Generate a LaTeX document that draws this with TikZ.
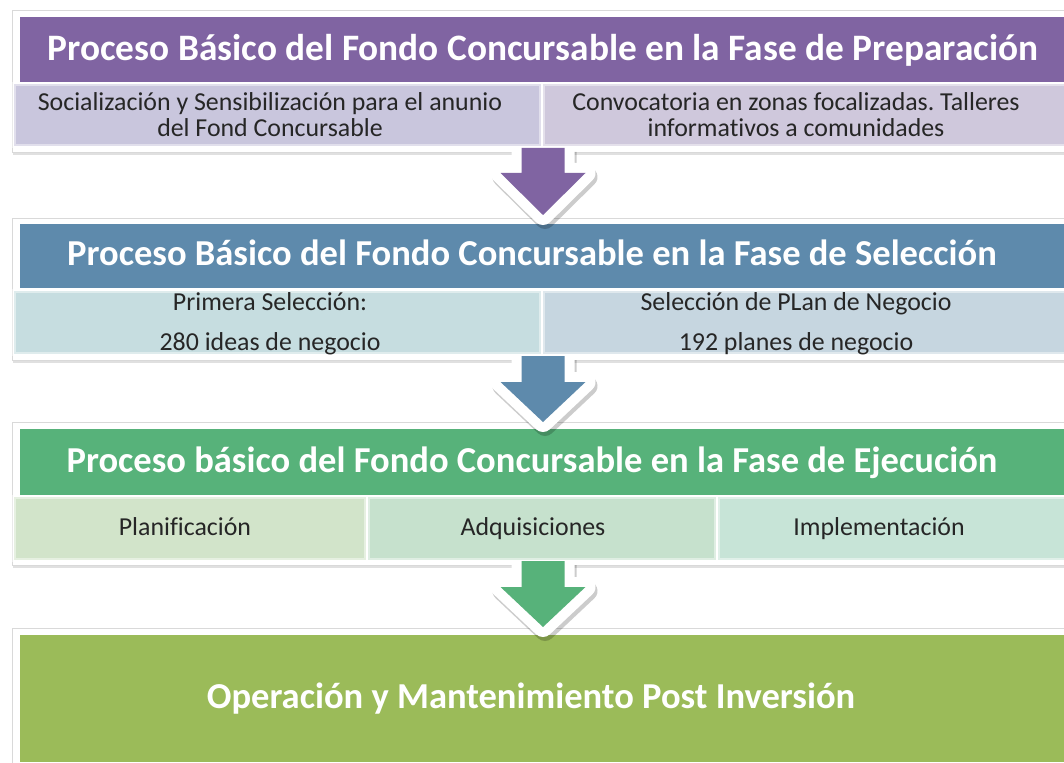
\documentclass[tikz,border=0pt]{standalone}
\usepackage{fontspec}
\setmainfont[Ligatures={NoCommon}]{Carlito}
\frenchspacing
\definecolor{purpleH}{HTML}{8064A2}
\definecolor{purpleA}{HTML}{C9C6DD}
\definecolor{purpleB}{HTML}{CFC8DC}
\definecolor{blueH}{HTML}{5E8AAC}
\definecolor{blueA}{HTML}{C6DDE0}
\definecolor{blueB}{HTML}{C6D6E0}
\definecolor{greenH}{HTML}{57B27A}
\definecolor{greenA}{HTML}{D2E4CA}
\definecolor{greenB}{HTML}{C6E1CD}
\definecolor{greenC}{HTML}{C7E4D7}
\definecolor{oliveH}{HTML}{9BBB59}
\definecolor{txtdark}{HTML}{262626}
\tikzset{
  framebox/.style={fill=white, draw=black!15, line width=0.6pt},
  frameshadow/.style={fill=black, opacity=0.12},
  subbox/.style={draw=white, draw opacity=0.45, line width=3pt},
  hdrtxt/.style={text=white, font=\fontsize{28}{30}\selectfont\bfseries, inner sep=0pt, anchor=base},
  hdrtxtsm/.style={hdrtxt, font=\fontsize{27.4}{30}\selectfont\bfseries},
  subtxt/.style={text=txtdark, font=\fontsize{19.4}{22}\selectfont, inner sep=0pt, anchor=base},
  arrowshadow/.style={draw=black, draw opacity=0.2, line width=15pt, line join=round},
  arrowrim/.style={draw=white, line width=15pt, line join=round},
}
\newcommand\downblockarrow[4]{%
  \draw[arrowshadow, shift={(2,4)}] (521.5,#1) -- (521.5,#2) -- (500.5,#2) -- (543,#3) -- (585.5,#2) -- (564.5,#2) -- (564.5,#1);
  \draw[arrowrim] (521.5,#1) -- (521.5,#2) -- (500.5,#2) -- (543,#3) -- (585.5,#2) -- (564.5,#2) -- (564.5,#1);
  \fill[#4] (521.5,#1) -- (521.5,#2) -- (500.5,#2) -- (543,#3) -- (585.5,#2) -- (564.5,#2) -- (564.5,#1) -- cycle;
}
\begin{document}
\begin{tikzpicture}[x=0.75pt,y=-0.75pt]
\useasboundingbox (0,0) rectangle (1064,763);
\fill[white] (0,0) rectangle (1064,763);

% ---------- block 1 ----------
\fill[frameshadow] (13,13) rectangle (1080,155);
\draw[framebox] (12,10) rectangle (1080,152);
\fill[purpleH] (20,17) rectangle (1080,82);
\filldraw[subbox, fill=purpleA] (14,84) rectangle (541,146);
\filldraw[subbox, fill=purpleB] (543,84) rectangle (1080,146);
\node[hdrtxt] (h1) at (543,61) {Proceso Básico del Fondo Concursable en la Fase de Preparación};
\node[subtxt] (s1a) at (270,111) {Socialización y Sensibilización para el anunio};
\node[subtxt] (s1a2) at (270,137) {del Fond Concursable};
\node[subtxt] (s1b) at (796,111) {Convocatoria en zonas focalizadas. Talleres};
\node[subtxt] (s1b2) at (796,137) {informativos a comunidades};

% ---------- block 2 ----------
\fill[frameshadow] (13,221) rectangle (1080,363);
\draw[framebox] (12,218) rectangle (1080,360);
\fill[blueH] (20,224) rectangle (1080,288);
\filldraw[subbox, fill=blueA] (14,291) rectangle (541,354);
\filldraw[subbox, fill=blueB] (543,291) rectangle (1080,354);
\node[hdrtxtsm] (h2) at (532,265) {Proceso Básico del Fondo Concursable en la Fase de Selección};
\node[subtxt] (s2a) at (270,310) {Primera Selección:};
\node[subtxt] (s2a2) at (270,350) {280 ideas de negocio};
\node[subtxt] (s2b) at (796,310) {Selección de PLan de Negocio};
\node[subtxt] (s2b2) at (796,350) {192 planes de negocio};

% ---------- block 3 ----------
\fill[frameshadow] (13,425) rectangle (1080,568);
\draw[framebox] (12,422) rectangle (1080,565);
\fill[greenH] (20,429) rectangle (1080,495);
\filldraw[subbox, fill=greenA] (14,497) rectangle (366,560);
\filldraw[subbox, fill=greenB] (368,497) rectangle (716,560);
\filldraw[subbox, fill=greenC] (718,497) rectangle (1080,560);
\node[hdrtxtsm] (h3) at (532,472) {Proceso básico del Fondo Concursable en la Fase de Ejecución};
\node[subtxt] (s3a) at (185,535) {Planificación};
\node[subtxt] (s3b) at (533,535) {Adquisiciones};
\node[subtxt] (s3c) at (879,535) {Implementación};

% ---------- block 4 ----------
\fill[frameshadow] (13,631) rectangle (1080,780);
\draw[framebox] (12,628) rectangle (1080,780);
\fill[oliveH] (20,635) rectangle (1080,762);
\node[hdrtxtsm] (h4) at (531,708) {Operación y Mantenimiento Post Inversión};

% ---------- arrows ----------
\downblockarrow{148}{173}{215}{purpleH}
\downblockarrow{356}{382}{422}{blueH}
\downblockarrow{561}{587}{627}{greenH}
\end{tikzpicture}
\end{document}
